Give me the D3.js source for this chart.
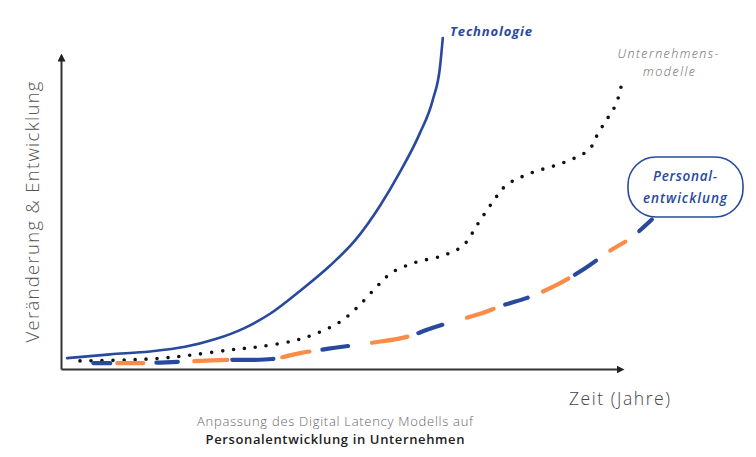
<!DOCTYPE html>
<html lang="de">
<head>
<meta charset="UTF-8">
<title>Digital Latency Modell</title>
<style>
  body { margin: 0; background: #fff; }
  svg { display: block; }
  text { font-family: 'Open Sans', sans-serif; }
  .axis path { stroke: #333; stroke-width: 2px; }
</style>
</head>
<body>
<svg width="756" height="457"></svg>
<script src="https://cdn.jsdelivr.net/npm/d3@7/dist/d3.min.js"></script>
<script>
// Zeit in Jahren (x) und Veränderung als Index (y)
const technologie = [
  [0.11, 3.5], [0.88, 4.7], [1.59, 5.6], [2.22, 7.1], [2.75, 9.5], [3.29, 13.2],
  [3.74, 17.7], [4.28, 25.1], [4.81, 33.1], [5.26, 41.2], [5.71, 52.4], [6.06, 63.0],
  [6.42, 75.6], [6.65, 86.2], [6.78, 96.8], [6.83, 106.1]
];
const unternehmensmodelle = [
  [0.34, 2.6], [1.18, 2.9], [1.81, 3.5], [2.34, 4.5], [3.02, 6.1], [3.52, 7.1],
  [4.15, 9.0], [4.60, 11.6], [4.99, 15.1], [5.31, 19.9], [5.65, 26.4], [5.92, 30.9],
  [6.33, 34.1], [6.82, 36.3], [7.19, 39.5], [7.46, 46.6], [7.73, 53.7], [7.96, 58.8],
  [8.39, 62.7], [9.00, 66.2], [9.45, 70.4], [9.61, 75.6], [9.79, 80.7], [9.93, 84.9],
  [10.05, 92.9]
];
const personalentwicklung = [
  [0.57, 1.9], [1.47, 1.9], [2.09, 2.3], [2.97, 2.9], [3.77, 3.2], [4.28, 5.1],
  [4.90, 6.8], [5.56, 8.4], [6.19, 10.3], [6.60, 12.9], [7.05, 15.4], [7.50, 17.7],
  [7.94, 20.6], [8.34, 22.8], [8.84, 26.7], [9.37, 32.2], [9.82, 37.9], [10.18, 41.8],
  [10.57, 47.9]
];
// Striche der Personal-Kurve: von, bis (Jahre), Farbe wechselt
const striche = [
  [0.57, 0.88], [1.00, 1.47], [1.70, 2.09], [2.38, 2.97], [3.06, 3.79], [3.95, 4.44],
  [4.67, 5.13], [5.56, 6.19], [6.39, 6.82], [7.26, 7.73], [7.94, 8.34], [8.62, 9.07],
  [9.19, 9.57], [9.82, 10.09], [10.34, 10.57]
];

const blau = "#28499c", orange = "#fa8c47";
const svg = d3.select("svg");

const x = d3.scaleLinear().domain([0, 10]).range([61, 620]);
const y = d3.scaleLinear().domain([0, 100]).range([369, 57]);

const defs = svg.append("defs");
defs.append("marker")
  .attr("id", "pfeil")
  .attr("viewBox", "0 0 10 10")
  .attr("refX", 5).attr("refY", 5)
  .attr("markerWidth", 4).attr("markerHeight", 4)
  .attr("orient", "auto")
  .append("path").attr("d", "M0,0L10,5L0,10Z").attr("fill", "#222");

// Achsen ohne Ticks
svg.append("g").attr("class", "axis")
  .attr("transform", `translate(0,${y(0)})`)
  .call(d3.axisBottom(x).tickValues([]).tickSizeOuter(0))
  .select(".domain").attr("marker-end", "url(#pfeil)");
svg.append("g").attr("class", "axis")
  .attr("transform", `translate(${x(0)},0)`)
  .call(d3.axisLeft(y).tickValues([]).tickSizeOuter(0))
  .select(".domain").attr("marker-end", "url(#pfeil)");

const line = d3.line()
  .x(d => x(d[0])).y(d => y(d[1]));

// Technologie
svg.append("path")
  .datum(technologie)
  .attr("d", line.curve(d3.curveMonotoneX))
  .attr("fill", "none").attr("stroke", blau)
  .attr("stroke-width", 2.6).attr("stroke-linecap", "round");

// Unternehmensmodelle (gepunktet)
svg.append("path")
  .datum(unternehmensmodelle)
  .attr("d", line.curve(d3.curveCatmullRom.alpha(0.5)))
  .attr("fill", "none").attr("stroke", "#111")
  .attr("stroke-width", 3.6).attr("stroke-linecap", "round")
  .attr("stroke-dasharray", "0 11");

// Personalentwicklung (abwechselnd blau/orange gestrichelt)
const pd = line.curve(d3.curveCatmullRom.alpha(0.5))(personalentwicklung);
const probe = svg.append("path").attr("d", pd).attr("fill", "none").attr("stroke", "none");
const total = probe.node().getTotalLength();
const samples = d3.range(0, total + 1, 0.5).map(l => [probe.node().getPointAtLength(l).x, l]);
const laengeBei = xv => {
  const px = x(xv);
  const s = samples.find(p => p[0] >= px);
  return s ? s[1] : total;
};
probe.remove();

svg.append("g").selectAll("path")
  .data(striche)
  .join("path")
  .attr("d", pd)
  .attr("fill", "none")
  .attr("stroke", (d, i) => i % 2 === 0 ? blau : orange)
  .attr("stroke-width", 4.2)
  .attr("stroke-linecap", "round")
  .attr("stroke-dasharray", d => {
    const a = laengeBei(d[0]), b = laengeBei(d[1]);
    return `${Math.max(b - a, 1)} ${total * 2}`;
  })
  .attr("stroke-dashoffset", d => -laengeBei(d[0]));

// Achsentitel
svg.append("text")
  .attr("transform", `translate(39,212) rotate(-90)`)
  .attr("text-anchor", "middle")
  .attr("font-size", 18.5).attr("font-weight", 300)
  .attr("textLength", 261).attr("lengthAdjust", "spacing")
  .attr("fill", "#555")
  .text("Veränderung & Entwicklung");

svg.append("text")
  .attr("x", 569).attr("y", 405)
  .attr("font-size", 17.5).attr("font-weight", 300)
  .attr("textLength", 101).attr("lengthAdjust", "spacing")
  .attr("fill", "#444")
  .text("Zeit (Jahre)");

// Beschriftungen der Kurven
svg.append("text")
  .attr("x", 450).attr("y", 36)
  .attr("font-size", 13).attr("font-weight", 700).attr("font-style", "italic")
  .attr("textLength", 82).attr("lengthAdjust", "spacing")
  .attr("fill", blau)
  .text("Technologie");

const um = svg.append("text")
  .attr("text-anchor", "middle")
  .attr("font-size", 12.5).attr("font-weight", 300).attr("font-style", "italic")
  .attr("fill", "#666");
um.append("tspan").attr("x", 668).attr("y", 58)
  .attr("textLength", 101).attr("lengthAdjust", "spacing").text("Unternehmens-");
um.append("tspan").attr("x", 669).attr("y", 76)
  .attr("textLength", 52).attr("lengthAdjust", "spacing").text("modelle");

svg.append("rect")
  .attr("x", 628).attr("y", 157)
  .attr("width", 115).attr("height", 60)
  .attr("rx", 28).attr("ry", 28)
  .attr("fill", "#fff").attr("stroke", blau).attr("stroke-width", 1.6);
const pe = svg.append("text")
  .attr("text-anchor", "middle")
  .attr("font-size", 13.5).attr("font-weight", 600).attr("font-style", "italic")
  .attr("fill", blau);
pe.append("tspan").attr("x", 685).attr("y", 181)
  .attr("textLength", 64).attr("lengthAdjust", "spacing").text("Personal-");
pe.append("tspan").attr("x", 685).attr("y", 203)
  .attr("textLength", 84).attr("lengthAdjust", "spacing").text("entwicklung");

// Bildunterschrift
svg.append("text")
  .attr("x", 335).attr("y", 426)
  .attr("text-anchor", "middle")
  .attr("font-size", 13).attr("font-weight", 300)
  .attr("textLength", 276).attr("lengthAdjust", "spacing")
  .attr("fill", "#666")
  .text("Anpassung des Digital Latency Modells auf");
svg.append("text")
  .attr("x", 335).attr("y", 444)
  .attr("text-anchor", "middle")
  .attr("font-size", 13).attr("font-weight", 600)
  .attr("textLength", 259).attr("lengthAdjust", "spacing")
  .attr("fill", "#222")
  .text("Personalentwicklung in Unternehmen");
</script>
</body>
</html>
